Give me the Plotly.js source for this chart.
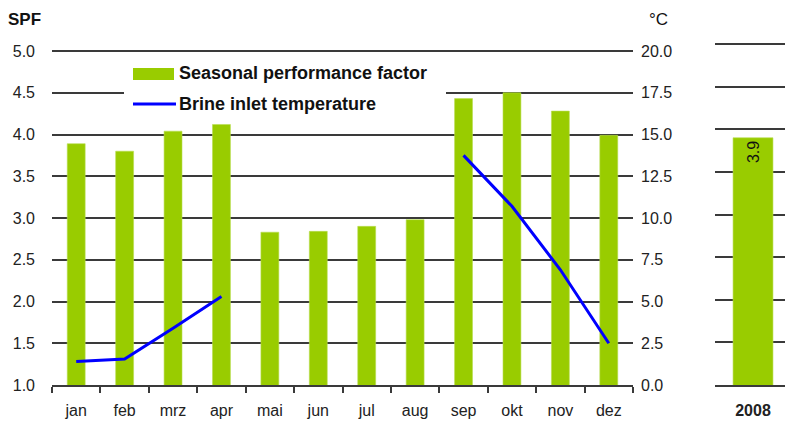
<!DOCTYPE html>
<html>
<head>
<meta charset="utf-8">
<script src="https://cdn.plot.ly/plotly-3.0.1.min.js"></script>
<style>html,body{margin:0;padding:0;background:#fff;}#chart{width:785px;height:423px;}</style>
</head>
<body>
<div id="chart"></div>
<script>
var months = ['jan','feb','mrz','apr','mai','jun','jul','aug','sep','okt','nov','dez'];
var spf = [3.89, 3.80, 4.04, 4.12, 2.83, 2.84, 2.90, 2.98, 4.43, 4.50, 4.28, 3.99];
var brine = [1.4, 1.55, 3.4, 5.3, null, null, null, null, 13.75, 10.7, 6.9, 2.5];
var yearLabels = ['2008'];
var yearSpf = [3.9];
var spfTicks = [1.0, 1.5, 2.0, 2.5, 3.0, 3.5, 4.0, 4.5, 5.0];
var tempTicks = [0.0, 2.5, 5.0, 7.5, 10.0, 12.5, 15.0, 17.5, 20.0];

var FONT = 'Liberation Sans, Arial, sans-serif';
var GREEN = '#99cc00';
var BLUE = '#0000ff';
var GRID = '#3a3a3a';

var W = 785, H = 423, ML = 52, MR = 0, MT = 38, MB = 38;
var PW = W - ML - MR, PH = H - MT - MB;
function px(x){ return (x - ML) / PW; }
function py(y){ return (H - MB - y) / PH; }
// pixel geometry of the reference: main panel 5.0 at y=51, right panel 5.0 at y=44, base at y=385
var PAD = 3;
var mainTop = 51 - PAD, yearTop = 44 - PAD;
var spfMax = 5 + PAD * 4 / (385 - 51);
var tempMax = 20 + PAD * 20 / (385 - 51);
var yearMax = 5 + PAD * 4 / (385 - 44);

var traces = [
  {type:'bar', x:months, y:spf, name:'Seasonal performance factor', xaxis:'x', yaxis:'y',
   marker:{color:GREEN, line:{color:'#b8dd50', width:0.6}}, width:0.37, showlegend:false},
  {type:'scatter', mode:'lines', x:months, y:brine, name:'Brine inlet temperature', xaxis:'x', yaxis:'y2',
   line:{color:BLUE, width:3}, connectgaps:false, showlegend:false},
  {type:'bar', x:yearLabels, y:yearSpf, name:'2008', xaxis:'x3', yaxis:'y3',
   marker:{color:GREEN, line:{color:'#b8dd50', width:0.6}}, width:0.57,
   text:yearSpf.map(function(v){return v.toFixed(1);}), textposition:'inside', insidetextanchor:'end',
   constraintext:'none', textangle:-90, textfont:{family:FONT, size:16, color:'#111'}, showlegend:false}
];

var axFont = {family:FONT, size:16, color:'#222'};
var layout = {
  width:W, height:H,
  margin:{l:ML, r:MR, t:MT, b:MB},
  paper_bgcolor:'#fff', plot_bgcolor:'rgba(0,0,0,0)',
  showlegend:false,
  font:{family:FONT, size:16, color:'#222'},
  xaxis:{domain:[0, px(633)], type:'category', range:[-0.5, 11.5], tickson:'boundaries',
         ticks:'outside', ticklen:6, tickwidth:2, tickcolor:GRID, showline:true, linecolor:GRID, linewidth:2,
         showgrid:false, tickfont:axFont, ticklabelstandoff:10},
  yaxis:{domain:[0, py(mainTop)], range:[1, spfMax], tickvals:spfTicks, tickformat:'.1f', showgrid:true,
         gridcolor:GRID, gridwidth:2, zeroline:false, showline:false, ticks:'', tickfont:axFont,
         ticklabelstandoff:16},
  yaxis2:{overlaying:'y', side:'right', anchor:'x', range:[0, tempMax], tickvals:tempTicks, tickformat:'.1f',
          showgrid:false, zeroline:false, showline:false, ticks:'', tickfont:axFont, ticklabelstandoff:7},
  xaxis3:{domain:[px(715), 1], anchor:'y3', type:'category', range:[-0.543, 0.457], showline:true,
          linecolor:GRID, linewidth:2, ticks:'', showgrid:false,
          tickfont:{family:FONT, size:16, color:'#222', weight:'bold'}, ticklabelstandoff:10},
  yaxis3:{domain:[0, py(yearTop)], anchor:'x3', range:[1, yearMax], tickvals:spfTicks, showgrid:true, gridcolor:GRID,
          gridwidth:2, zeroline:false, showticklabels:false, ticks:''},
  shapes:[
    {type:'rect', xref:'paper', yref:'paper', x0:px(124), x1:px(446), y0:py(118), y1:py(58),
     fillcolor:'#fff', line:{width:0}, layer:'above'},
    {type:'rect', xref:'paper', yref:'paper', x0:px(133), x1:px(174), y0:py(80), y1:py(68),
     fillcolor:GREEN, line:{width:0}, layer:'above'},
    {type:'line', xref:'paper', yref:'paper', x0:px(133), x1:px(176), y0:py(104), y1:py(104),
     line:{color:BLUE, width:3}, layer:'above'}
  ],
  annotations:[
    {xref:'paper', yref:'paper', x:px(177), y:py(73), xanchor:'left', yanchor:'middle', showarrow:false,
     text:'<b>Seasonal performance factor</b>', font:{family:FONT, size:18, color:'#111'}},
    {xref:'paper', yref:'paper', x:px(177), y:py(104), xanchor:'left', yanchor:'middle', showarrow:false,
     text:'<b>Brine inlet temperature</b>', font:{family:FONT, size:18, color:'#111'}},
    {xref:'paper', yref:'paper', x:px(6), y:py(20), xanchor:'left', yanchor:'middle', showarrow:false,
     text:'<b>SPF</b>', font:{family:FONT, size:17, color:'#111'}},
    {xref:'paper', yref:'paper', x:px(647), y:py(20), xanchor:'left', yanchor:'middle', showarrow:false,
     text:'°C', font:{family:FONT, size:17, color:'#111'}}
  ]
};

Plotly.newPlot('chart', traces, layout, {displayModeBar:false, staticPlot:true});
</script>
</body>
</html>
